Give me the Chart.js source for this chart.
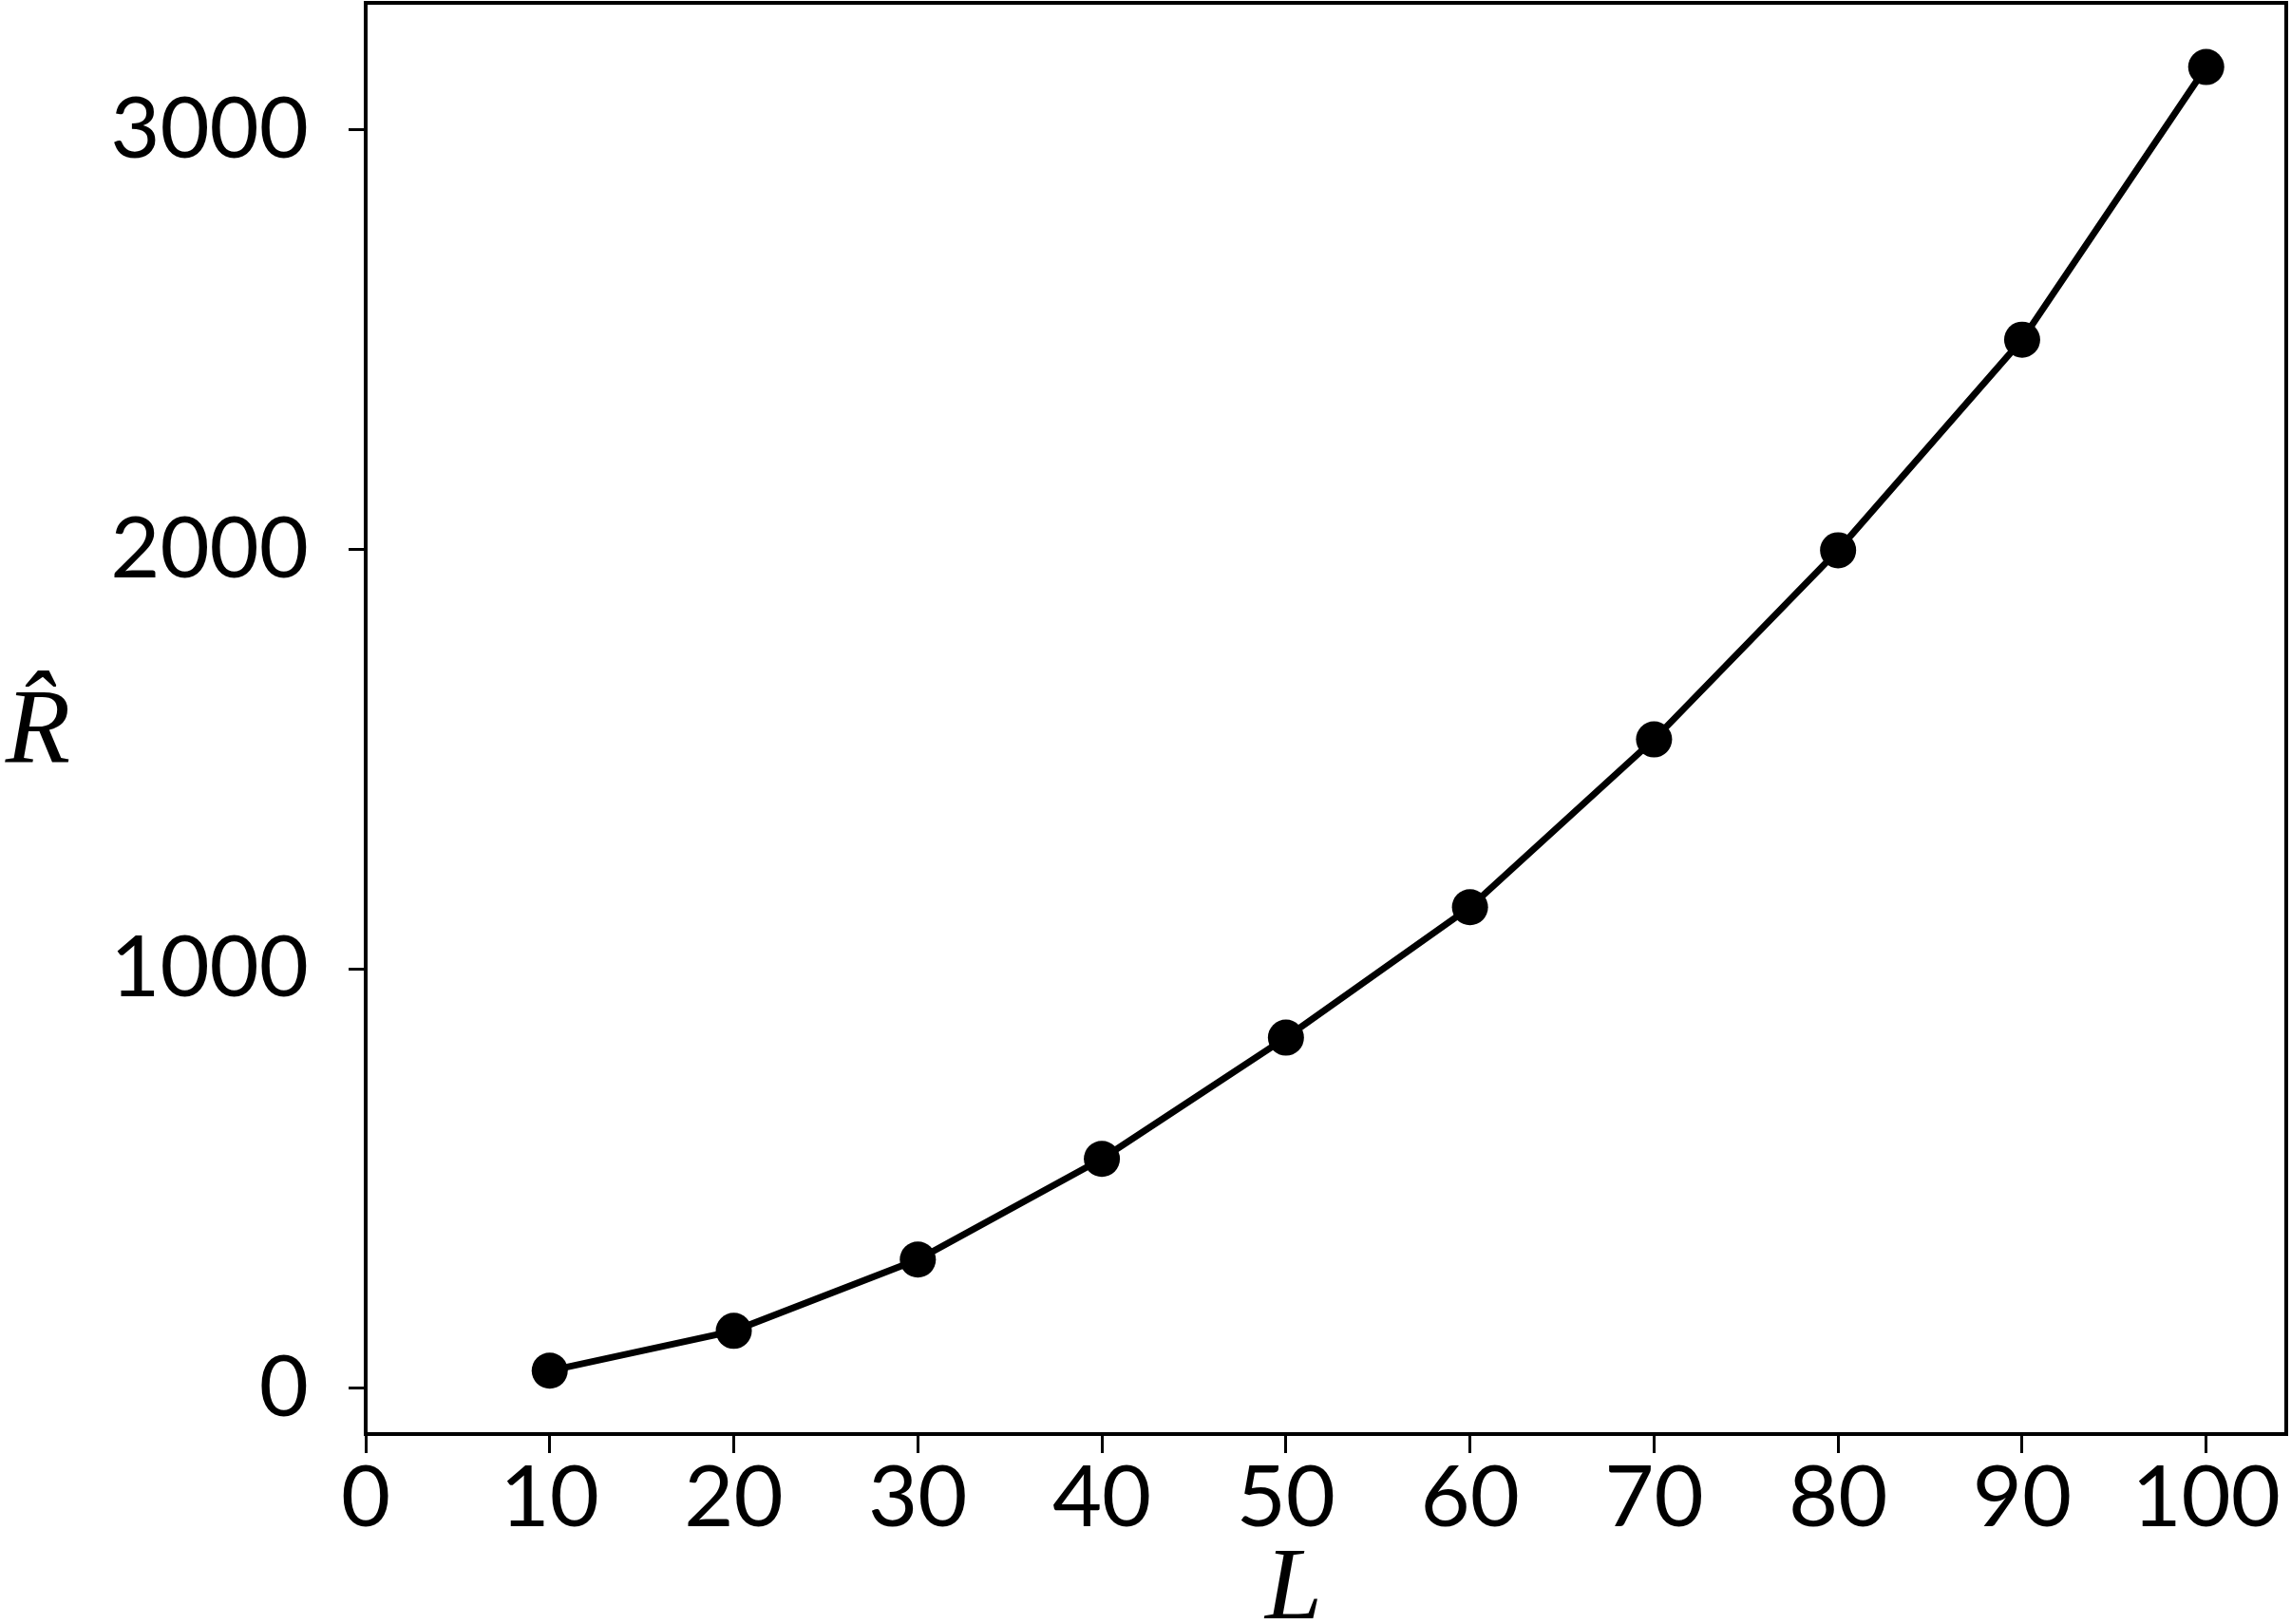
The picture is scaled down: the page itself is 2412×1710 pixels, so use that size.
<!DOCTYPE html>
<html>
<head>
<meta charset="utf-8">
<script src="https://cdn.jsdelivr.net/npm/chart.js@4/dist/chart.umd.min.js"></script>
<style>
html, body { margin: 0; padding: 0; background: #fff; }
</style>
</head>
<body>
<canvas id="myChart" width="2412" height="1710"></canvas>
<script>
// data //
var sizes = [10, 20, 30, 40, 50, 60, 70, 80, 90, 100];
var rhat = [42, 137, 307, 547, 836, 1147, 1547, 1998, 2500, 3150];
var xTicks = [0, 10, 20, 30, 40, 50, 60, 70, 80, 90, 100];
var yTicks = [0, 1000, 2000, 3000];

var tickFont = { family: 'Lato', size: 90 };

// box round the plot + axis titles //
var frame = {
    id: 'frame',
    afterDraw: function(chart) {
        var c = chart.ctx, a = chart.chartArea;
        c.save();
        c.strokeStyle = '#000';
        c.lineWidth = 4;
        c.strokeRect(a.left, a.top, a.right - a.left, a.bottom - a.top);
        c.fillStyle = '#000';
        c.font = 'italic 112px "Liberation Serif"';
        c.textAlign = 'center';
        c.textBaseline = 'alphabetic';
        c.fillText('R\u0302', 40, 802);
        c.font = 'italic 108px "Liberation Serif"';
        c.fillText('L', 1362, 1704);
        c.restore();
    }
};

var ctx = document.getElementById('myChart').getContext('2d');
var chart = new Chart(ctx, {
    type: 'line',
    data: {
        datasets: [{
            data: sizes.map(function(v, i) { return { x: v, y: rhat[i] }; }),
            borderColor: '#000',
            backgroundColor: '#000',
            borderWidth: 7,
            pointRadius: 19,
            pointHoverRadius: 19,
            pointBackgroundColor: '#000',
            pointBorderWidth: 0,
            tension: 0
        }]
    },
    options: {
        responsive: false,
        animation: false,
        devicePixelRatio: 1,
        layout: { autoPadding: false, padding: { left: 0, top: 3, right: 5, bottom: 0 } },
        plugins: { legend: { display: false }, tooltip: { enabled: false } },
        scales: {
            x: {
                type: 'linear',
                min: 0,
                max: 104.35,
                afterBuildTicks: function(s) { s.ticks = xTicks.map(function(v) { return { value: v }; }); },
                afterFit: function(s) { s.height = 200; s.paddingLeft = 0; s.paddingRight = 0; },
                grid: { drawOnChartArea: false, drawTicks: true, tickLength: 20, tickWidth: 3, tickColor: '#000' },
                border: { display: false },
                ticks: {
                    color: '#000', font: tickFont, padding: -6, maxRotation: 0, autoSkip: false,
                    callback: function(v) { return String(v); }
                }
            },
            y: {
                type: 'linear',
                min: -109,
                max: 3303,
                afterBuildTicks: function(s) { s.ticks = yTicks.map(function(v) { return { value: v }; }); },
                afterFit: function(s) { s.width = 385; s.paddingTop = 0; s.paddingBottom = 0; },
                grid: { drawOnChartArea: false, drawTicks: true, tickLength: 18, tickWidth: 3, tickColor: '#000' },
                border: { display: false },
                ticks: {
                    color: '#000', font: tickFont, padding: 42,
                    callback: function(v) { return String(v); }
                }
            }
        }
    },
    plugins: [frame]
});
</script>
</body>
</html>
